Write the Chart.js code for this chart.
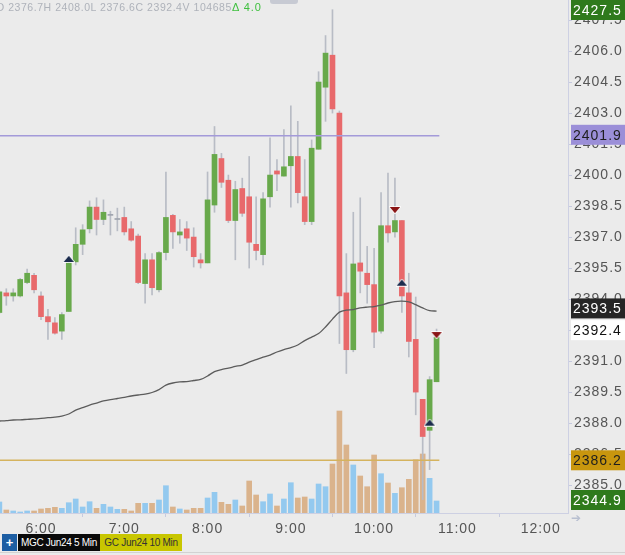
<!DOCTYPE html>
<html><head><meta charset="utf-8">
<script src="https://cdn.jsdelivr.net/npm/chart.js@4.4.1/dist/chart.umd.min.js"></script>
<style>
html,body{margin:0;padding:0;background:#ebebeb;width:625px;height:555px;overflow:hidden;font-family:"Liberation Sans",Arial,sans-serif;}
#wrap{position:absolute;left:0;top:0;width:625px;height:534px;}
#hdr{position:absolute;left:-4px;top:0;font-size:10.5px;line-height:14px;color:#aeb2ba;letter-spacing:0.55px;white-space:nowrap;z-index:2}
#hdr .d{color:#3fc03f;font-size:11px;letter-spacing:1px}
#toptab{position:absolute;left:270px;top:-3px;width:28px;height:7px;border-radius:3px;background:#c7cad3;z-index:2}
#tabs{position:absolute;left:0;top:534px;height:17px;font-size:10px;line-height:17px;white-space:nowrap}
#tabs div{position:absolute;top:0;height:17px;}
#plus{left:2px;width:15px;background:#1d5ea3;color:#fff;font-weight:bold;font-size:13px;text-align:center}
#t1{left:18px;width:82px;background:#0a0a0a;color:#fff;text-align:center;letter-spacing:-0.3px}
#t2{left:100px;width:82px;background:#c8c600;color:#333;text-align:center;letter-spacing:-0.3px}
#botline{position:absolute;left:0;top:552px;width:625px;height:1px;background:#d2d2d2}
#arrow{position:absolute;left:571px;top:511px;font-size:12px;color:#b8bfd0}
</style></head>
<body>
<div id="wrap"><canvas id="c" width="625" height="534"></canvas></div>
<div id="toptab"></div>
<div id="hdr">O 2376.7H 2408.0L 2376.6C 2392.4V 104685<span class="d">Δ 4.0</span></div>
<div id="arrow">➔</div>
<div id="tabs"><div id="plus">+</div><div id="t1">MGC Jun24 5 Min</div><div id="t2">GC Jun24 10 Min</div></div>
<div id="botline"></div>
<script>
// ---- data ----
const barTimes = ['5:30','5:35','5:40','5:45','5:50','5:55',
 '6:00','6:05','6:10','6:15','6:20','6:25','6:30','6:35','6:40','6:45','6:50','6:55',
 '7:00','7:05','7:10','7:15','7:20','7:25','7:30','7:35','7:40','7:45','7:50','7:55',
 '8:00','8:05','8:10','8:15','8:20','8:25','8:30','8:35','8:40','8:45','8:50','8:55',
 '9:00','9:05','9:10','9:15','9:20','9:25','9:30','9:35','9:40','9:45','9:50','9:55',
 '10:00','10:05','10:10','10:15','10:20','10:25','10:30','10:35','10:40','10:45'];
const opens = [2393.35,2394.3,2394.15,2394.15,2394.8,2395.15,
 2394.15,2393.15,2392.85,2392.45,2393.4,2395.8,2396.65,2397.4,2398.45,2397.85,2398.05,2397.85,
 2397.95,2397.4,2397.05,2394.75,2395.9,2394.45,2396.25,2398.05,2397.1,2397.4,2397.0,2395.9,
 2395.75,2398.55,2400.8,2399.75,2397.8,2399.35,2398.95,2396.65,2396.15,2398.95,2400.2,2399.95,
 2400.45,2400.9,2398.95,2397.75,2401.25,2404.25,2405.8,2403.0,2394.3,2391.55,2395.75,2395.25,
 2394.7,2392.45,2397.55,2397.25,2397.8,2394.3,2392.05,2389.15,2387.65,2390.0];
const highs = [2394.4,2394.5,2394.5,2395.0,2395.45,2395.25,
 2394.35,2393.5,2393.1,2393.35,2396.1,2397.45,2397.6,2398.75,2398.9,2398.8,2398.25,2398.4,
 2398.45,2397.75,2397.15,2396.2,2396.2,2396.3,2400.15,2398.1,2397.85,2397.75,2397.45,2396.2,
 2400.15,2402.35,2401.05,2400.0,2399.7,2399.85,2400.9,2398.95,2399.15,2401.8,2400.75,2402.2,
 2403.35,2402.6,2400.75,2401.7,2405.0,2406.75,2408.0,2403.1,2396.2,2398.2,2398.9,2396.55,
 2396.45,2399.15,2400.1,2399.85,2397.8,2395.25,2394.1,2389.15,2390.25,2392.55];
const lows = [2393.3,2393.7,2393.9,2394.1,2394.75,2394.3,
 2393.0,2392.05,2392.3,2392.05,2393.4,2395.65,2396.15,2397.2,2397.1,2397.6,2397.1,2397.3,
 2397.1,2396.8,2394.75,2393.8,2394.2,2394.35,2395.9,2396.45,2396.7,2396.35,2395.55,2395.5,
 2395.75,2398.2,2399.4,2397.7,2395.9,2398.0,2395.5,2395.9,2395.65,2398.45,2399.25,2399.95,
 2398.45,2398.65,2397.6,2397.6,2401.25,2402.6,2403.0,2391.85,2390.4,2391.45,2394.3,2393.8,
 2391.65,2392.35,2396.75,2397.0,2393.35,2391.2,2388.4,2384.3,2385.75,2390.0];
const closes = [2394.35,2394.15,2394.3,2394.95,2395.25,2394.45,
 2393.15,2392.9,2392.35,2393.25,2395.75,2396.65,2397.35,2398.45,2397.85,2398.2,2398.05,2397.85,
 2397.25,2396.85,2394.8,2395.9,2394.55,2396.25,2397.95,2397.25,2397.25,2396.95,2396.05,2395.75,
 2398.8,2401.0,2399.65,2397.8,2399.3,2398.15,2396.75,2396.35,2398.85,2400.0,2400.05,2400.4,
 2400.9,2399.15,2397.75,2401.3,2404.5,2405.9,2403.2,2394.15,2391.55,2395.7,2395.35,2394.7,
 2392.4,2397.55,2397.2,2397.8,2394.15,2391.95,2389.5,2387.35,2390.1,2392.15];
const movingAvg = [2388.10,2388.12,2388.15,2388.16,2388.18,2388.20,
 2388.23,2388.26,2388.29,2388.34,2388.44,2388.63,2388.75,2388.87,2388.97,2389.07,2389.14,2389.19,
 2389.24,2389.31,2389.36,2389.40,2389.48,2389.62,2389.84,2389.94,2389.99,2390.01,2390.06,2390.11,
 2390.28,2390.49,2390.59,2390.66,2390.74,2390.81,2390.95,2391.07,2391.19,2391.29,2391.44,2391.56,
 2391.65,2391.78,2391.99,2392.16,2392.33,2392.65,2393.03,2393.37,2393.47,2393.49,2393.57,2393.61,
 2393.64,2393.71,2393.81,2393.88,2393.90,2393.86,2393.73,2393.57,2393.44,2393.42];
const volumes = [220,60,40,20,40,40,
 80,94,114,94,206,280,120,226,94,174,120,74,
 74,40,194,194,194,260,546,120,80,60,94,94,
 300,414,214,174,260,140,640,360,226,380,140,280,
 606,300,320,280,580,526,980,2040,1360,960,740,526,
 1160,786,600,394,506,674,1066,1180,694,240];
const volumeSide = [1,-1,1,1,1,-1,
 -1,-1,-1,1,1,1,1,1,-1,1,1,1,
 -1,-1,-1,1,-1,1,1,-1,1,-1,-1,-1,
 1,1,-1,-1,1,-1,-1,-1,1,1,-1,1,
 1,-1,-1,1,1,1,-1,-1,-1,1,-1,-1,
 -1,1,-1,1,-1,-1,-1,-1,1,1];
const upSignalTimes = ['6:20','10:20','10:40'];
const upSignalPrices = [2395.94,2394.79,2388.02];
const downSignalTimes = ['10:15','10:45'];
const downSignalPrices = [2398.31,2392.26];
const levelPrices = [2401.9,2386.2];
const levelSpan = ['5:25','10:47'];
const priceTicks = [2385.0,2386.5,2388.0,2389.5,2391.0,2392.5,2394.0,2395.5,2397.0,2398.5,2400.0,2401.5,2403.0,2404.5,2406.0,2407.5];
const timeTicks = ['6:00','7:00','8:00','9:00','10:00','11:00','12:00'];
const tagValues = [2427.5,2401.9,2393.5,2392.4,2386.2,2344.9];

// ---- helpers / styles ----
const toMin = t => { const [h,m]=t.split(':').map(Number); return h*60+m; };
const GREEN='#68a94b', RED='#e8696b', WICK='#b8bcc5', DOJI='#9ea3ad';
const VOL_UP='#93c9ef', VOL_DN='#dab38c';
const tagStyles = [
 {bg:'#2f7a1c',fg:'#ffffff'},
 {bg:'#9b8fd8',fg:'#1e1e1e',shift:-1},
 {bg:'#262626',fg:'#ffffff',shift:-1},
 {bg:'#ffffff',fg:'#111111',shift:-2},
 {bg:'#c8960e',fg:'#1e1e1e'},
 {bg:'#2f7a1c',fg:'#ffffff',shift:-3}
];
function tri(up, fill){
  const c=document.createElement('canvas'); c.width=12; c.height=8;
  const g=c.getContext('2d'); g.beginPath();
  if(up){g.moveTo(6,0.8);g.lineTo(11.2,7);g.lineTo(0.8,7);}
  else {g.moveTo(0.8,1);g.lineTo(11.2,1);g.lineTo(6,7.2);}
  g.closePath(); g.strokeStyle='#ffffff'; g.lineWidth=1.6; g.stroke();
  g.fillStyle=fill; g.fill(); return c;
}
const noPad = s => { s.paddingTop=0; s.paddingBottom=0; s.paddingLeft=0; s.paddingRight=0; };
const xs = barTimes.map(toMin);
const wickData = xs.map((x,k)=>({x, y:[lows[k],highs[k]]}));
const bodyData = xs.map((x,k)=>({x, y:[opens[k],closes[k]]}));
const bodyColors = opens.map((o,k)=> closes[k]>o ? GREEN : (closes[k]<o ? RED : DOJI));
const volData = xs.map((x,k)=>({x, y:volumes[k]}));
const volColors = volumeSide.map(s=> s>0 ? VOL_UP : VOL_DN);
const maData = xs.map((x,k)=>({x, y:movingAvg[k]}));

const tagPlugin = {
  id:'tags',
  beforeDraw(chart){ chart.ctx.letterSpacing='1px'; },
  afterDraw(chart){
    const ctx=chart.ctx, ys=chart.scales.y, a=chart.chartArea;
    ctx.save();
    ctx.letterSpacing='1px';
    ctx.font='14px "Liberation Sans", Arial, sans-serif';
    ctx.textBaseline='middle'; ctx.textAlign='left';
    tagValues.forEach((v,k)=>{
      const st=tagStyles[k];
      let py=ys.getPixelForValue(v);
      py=Math.min(Math.max(py,a.top+10),a.bottom-10)+(st.shift||0);
      ctx.fillStyle=st.bg; ctx.fillRect(a.right+3,py-10,chart.width-a.right-3,20);
      ctx.fillStyle=st.fg; ctx.fillText(v.toFixed(1),a.right+5,py+1);
    });
    ctx.restore();
  }
};

new Chart(document.getElementById('c'), {
  type:'bar',
  data:{ datasets:[
    {type:'line', data:levelSpan.map(t=>({x:toMin(t),y:levelPrices[0]})), borderColor:'#a39ad9', borderWidth:1.5, pointRadius:0, order:1},
    {type:'line', data:levelSpan.map(t=>({x:toMin(t),y:levelPrices[1]})), borderColor:'#d5b35e', borderWidth:1.5, pointRadius:0, order:1},
    {type:'line', data:maData, borderColor:'#5c5c5c', borderWidth:1.3, pointRadius:0, tension:0.3, order:1},
    {type:'scatter', data:upSignalTimes.map((t,k)=>({x:toMin(t),y:upSignalPrices[k]})), pointStyle:tri(true,'#1b2b4d'), pointRadius:6, order:0},
    {type:'scatter', data:downSignalTimes.map((t,k)=>({x:toMin(t),y:downSignalPrices[k]})), pointStyle:tri(false,'#8a1616'), pointRadius:6, order:0},
    {data:bodyData, backgroundColor:bodyColors, barThickness:5, minBarLength:1, grouped:false, order:2},
    {data:wickData, backgroundColor:WICK, barThickness:1, grouped:false, order:3},
    {data:volData, backgroundColor:volColors, barThickness:5, grouped:false, yAxisID:'yv', order:10}
  ]},
  options:{
    responsive:false, animation:false, events:[],
    layout:{padding:0, autoPadding:false},
    plugins:{legend:{display:false}, tooltip:{enabled:false}},
    scales:{
      x:{type:'linear', min:330.45, max:739.7, offset:false,
         afterBuildTicks:s=>{ s.ticks=timeTicks.map(t=>({value:toMin(t)})); },
         afterFit:s=>{ s.height=21; noPad(s); },
         ticks:{font:{family:'Liberation Sans',size:14}, color:'#555555', padding:4, maxRotation:0, autoSkip:false,
                callback:(v,i)=>timeTicks[i]},
         grid:{drawOnChartArea:false, tickLength:4, color:'#c6cadf'},
         border:{color:'#cdd0e3'}},
      y:{type:'linear', position:'right', min:2383.65, max:2408.47,
         afterBuildTicks:s=>{ s.ticks=priceTicks.map(v=>({value:v})); },
         afterFit:s=>{ s.width=57; noPad(s); },
         ticks:{font:{family:'Liberation Sans',size:14}, color:'#555555', padding:2,
                callback:v=>Number(v).toFixed(1)},
         grid:{drawOnChartArea:false, tickLength:4, color:'#c6cadf'},
         border:{color:'#cdd0e3'}},
      yv:{type:'linear', display:false, min:0, max:10260, afterFit:noPad}
    }
  },
  plugins:[tagPlugin]
});
</script>
</body></html>
